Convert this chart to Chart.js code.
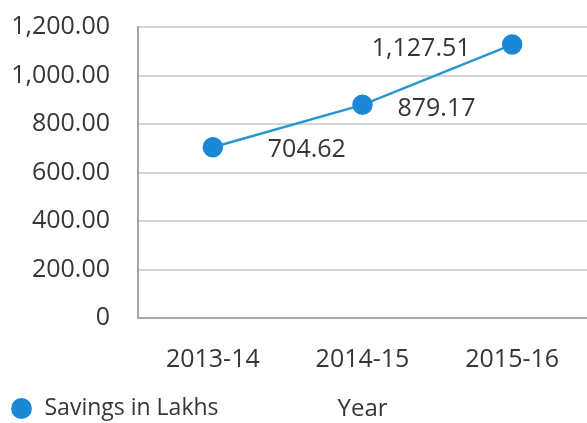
<!DOCTYPE html>
<html>
<head>
<meta charset="utf-8">
<title>Savings in Lakhs</title>
<script src="https://cdn.jsdelivr.net/npm/chart.js@4/dist/chart.umd.min.js"></script>
<style>
  html, body { margin: 0; padding: 0; background: #fff; }
  #wrap { width: 587px; height: 423px; position: relative; }
</style>
</head>
<body>
<div id="wrap"><canvas id="myChart"></canvas></div>
<script>
// data
const years = ["2013-14", "2014-15", "2015-16"];
const savings = [704.62, 879.17, 1127.51];
const yTicks = [0, 200, 400, 600, 800, 1000, 1200];

// where each value label sits relative to its point
const labelOffsets = [[94, 3], [74, 4], [-91, 4]];

const textColor = '#363636';
const fontFamily = "'Open Sans', 'Noto Sans', sans-serif";

function fmt(v, digits) {
    return v.toLocaleString('en-US', { minimumFractionDigits: digits, maximumFractionDigits: digits });
}

// draws the value next to each point
const valueLabels = {
    id: 'valueLabels',
    afterDatasetsDraw(chart) {
        const ctx = chart.ctx;
        const meta = chart.getDatasetMeta(0);
        ctx.save();
        ctx.font = '25px ' + fontFamily;
        ctx.fillStyle = textColor;
        ctx.textAlign = 'center';
        ctx.textBaseline = 'middle';
        meta.data.forEach((pt, i) => {
            const off = labelOffsets[i];
            ctx.fillText(fmt(savings[i], 2), pt.x + off[0], pt.y + off[1]);
        });
        ctx.restore();
    }
};

const ctx = document.getElementById('myChart').getContext('2d');
const myChart = new Chart(ctx, {
    type: 'line',
    data: {
        labels: years,
        datasets: [{
            label: 'Savings in Lakhs',
            data: savings,
            borderColor: '#2897cf',
            borderWidth: 2.5,
            backgroundColor: '#1b88d6',
            pointBackgroundColor: '#1b88d6',
            pointBorderColor: '#1b88d6',
            pointRadius: 9,
            pointHoverRadius: 9,
            pointStyle: 'circle',
            tension: 0
        }]
    },
    options: {
        responsive: true,
        maintainAspectRatio: false,
        animation: false,
        layout: { autoPadding: false, padding: { top: 27, right: 0, bottom: -7, left: 0 } },
        plugins: {
            legend: {
                position: 'bottom',
                align: 'start',
                labels: {
                    usePointStyle: true,
                    boxHeight: 13,
                    padding: 10,
                    color: textColor,
                    font: { family: fontFamily, size: 23 }
                }
            },
            tooltip: { enabled: false }
        },
        scales: {
            x: {
                offset: true,
                // plot runs to the right edge, no room kept for label overhang
                afterFit: (scale) => { scale.paddingLeft = 0; scale.paddingRight = 0; },
                grid: { display: false, drawTicks: false },
                border: { display: true, color: '#a6a6a6', width: 2 },
                ticks: {
                    color: textColor,
                    padding: 27,
                    font: { family: fontFamily, size: 25 }
                },
                title: {
                    display: true,
                    text: 'Year',
                    color: textColor,
                    padding: { top: -7, bottom: -37 },
                    font: { family: fontFamily, size: 24 }
                }
            },
            y: {
                min: 0,
                max: 1200,
                afterBuildTicks: (scale) => {
                    scale.ticks = yTicks.map(v => ({ value: v }));
                },
                afterFit: (scale) => {
                    scale.width = 138;
                    scale.paddingTop = 0;
                    scale.paddingBottom = 0;
                },
                grid: { color: '#d4d4d4', lineWidth: 2, drawTicks: false },
                border: { display: true, color: '#a6a6a6', width: 2 },
                ticks: {
                    color: textColor,
                    padding: 28,
                    font: { family: fontFamily, size: 25 },
                    callback: (v) => v === 0 ? '0' : fmt(v, 2)
                }
            }
        }
    },
    plugins: [valueLabels]
});
</script>
</body>
</html>
